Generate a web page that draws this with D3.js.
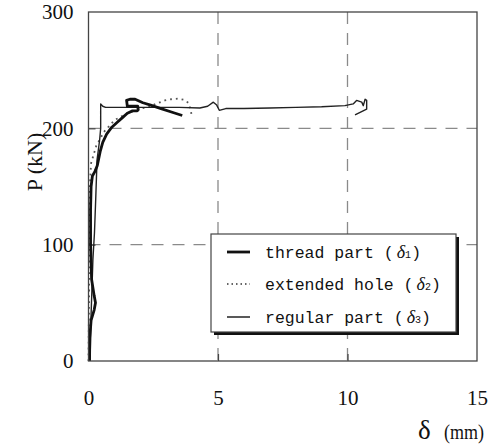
<!DOCTYPE html>
<html>
<head>
<meta charset="utf-8">
<script src="https://cdn.jsdelivr.net/npm/d3@7"></script>
<style>
  html, body { margin: 0; padding: 0; background: #fff; }
  svg { display: block; }
</style>
</head>
<body>
<svg id="chart" width="490" height="446"></svg>
<script>
// ---- data ----
const xTicks = [0, 5, 10, 15];
const yTicks = [0, 100, 200, 300];
const xGrid = [5, 10];
const yGrid = [100, 200];

const legendLabels = ["thread part", "extended hole", "regular part"];
const legendSubs = ["1", "2", "3"];

// thread part (δ1) — thick line
const threadDelta = [0.04, 0.05, 0.1, 0.22, 0.27, 0.22, 0.12, 0.08, 0.08, 0.1, 0.15, 0.25, 0.34, 0.45, 0.55, 0.7, 0.9, 1.1, 1.3, 1.5, 1.7, 1.88, 1.92, 1.9, 1.5, 1.47, 1.6, 1.8, 2.1, 2.4, 2.8, 3.2, 3.62];
const threadLoad  = [0, 20, 35, 44, 50, 56, 70, 100, 130, 150, 159, 163, 168, 180, 188, 195, 201, 205, 209, 213, 215, 215, 216, 219, 219, 224, 225, 225, 222, 220, 217, 214, 211];

// extended hole (δ2) — dotted line
const holeDelta = [0, 0.02, 0.04, 0.05, 0.1, 0.3, 0.6, 1.0, 1.5, 2.0, 2.3, 2.6, 2.95, 3.2, 3.47, 3.7, 3.85, 3.95, 3.98];
const holeLoad  = [0, 50, 100, 150, 170, 185, 197, 207, 213, 217, 218, 221, 224, 225, 225.5, 224.5, 222, 216, 211];

// regular part (δ3) — thin line
const regularDelta = [0.06, 0.1, 0.17, 0.23, 0.28, 0.33, 0.43, 0.47, 0.47, 0.55, 0.66, 1.5, 2.5, 3.5, 4.3, 4.6, 4.82, 4.95, 5.05, 5.3, 6, 7, 8, 9, 9.9, 10.22, 10.35, 10.55, 10.61, 10.68, 10.74, 10.74, 10.29];
const regularLoad  = [0, 40, 87, 110, 140, 173, 190, 200, 221, 219, 218, 218, 218, 218, 217.5, 219, 222.5, 220, 215.5, 217, 217, 217.5, 218, 218.5, 219.5, 221, 224, 222.5, 219.5, 225, 224, 216.5, 211.5];

// ---- drawing ----
const svg = d3.select("#chart");
const x = d3.scaleLinear().domain([0, 15]).range([88.5, 477]);
const y = d3.scaleLinear().domain([0, 300]).range([361, 12]);
const serif = "'Liberation Serif', 'Times New Roman', serif";

// grid lines
svg.append("g").selectAll("line").data(xGrid).join("line")
  .attr("x1", d => x(d)).attr("x2", d => x(d))
  .attr("y1", y(300)).attr("y2", y(0))
  .attr("stroke", "#8a8a8a").attr("stroke-width", 1.3).attr("stroke-dasharray", "12,9");
svg.append("g").selectAll("line").data(yGrid).join("line")
  .attr("y1", d => y(d)).attr("y2", d => y(d))
  .attr("x1", x(0)).attr("x2", x(15))
  .attr("stroke", "#8a8a8a").attr("stroke-width", 1.3).attr("stroke-dasharray", "12,9");

// inner ticks
const inLeft = svg.append("g").attr("transform", `translate(${x(0)},0)`)
  .call(d3.axisRight(y).tickValues(yGrid).tickSize(7).tickFormat(""));
const inBottom = svg.append("g").attr("transform", `translate(0,${y(0)})`)
  .call(d3.axisTop(x).tickValues(xGrid).tickSize(7).tickFormat(""));
[inLeft, inBottom].forEach(g => {
  g.select(".domain").remove();
  g.selectAll("line").attr("stroke", "#444").attr("stroke-width", 1.2);
});

// tick labels via axes
const yAxis = svg.append("g").attr("transform", `translate(${x(0)},0)`)
  .call(d3.axisLeft(y).tickValues(yTicks).tickSize(0).tickPadding(15).tickFormat(d3.format("d")));
const xAxis = svg.append("g").attr("transform", `translate(0,${y(0)})`)
  .call(d3.axisBottom(x).tickValues(xTicks).tickSize(0).tickPadding(29).tickFormat(d3.format("d")));
[yAxis, xAxis].forEach(g => {
  g.attr("font-family", null).attr("font-size", null);
  g.select(".domain").remove();
  g.selectAll("text").style("font-family", serif).style("font-size", "21px").attr("fill", "#111");
});

// series lines
const line = d3.line().x(d => x(d[0])).y(d => y(d[1]));
const zip = (a, b) => a.map((v, i) => [v, b[i]]);

svg.append("path").datum(zip(holeDelta, holeLoad))
  .attr("d", line).attr("fill", "none")
  .attr("stroke", "#555").attr("stroke-width", 1.8).attr("stroke-dasharray", "1.8,4");
svg.append("path").datum(zip(regularDelta, regularLoad))
  .attr("d", line).attr("fill", "none")
  .attr("stroke", "#222").attr("stroke-width", 1.4).attr("stroke-linejoin", "round");
svg.append("path").datum(zip(threadDelta, threadLoad))
  .attr("d", line).attr("fill", "none")
  .attr("stroke", "#111").attr("stroke-width", 2.8).attr("stroke-linejoin", "round");

// frame
svg.append("rect")
  .attr("x", x(0)).attr("y", y(300))
  .attr("width", x(15) - x(0)).attr("height", y(0) - y(300))
  .attr("fill", "none").attr("stroke", "#444").attr("stroke-width", 1.3);

// axis titles
svg.append("text")
  .attr("transform", `translate(42,162) rotate(-90)`)
  .attr("text-anchor", "middle")
  .style("font-family", serif).style("font-size", "22px").attr("fill", "#111")
  .text("P (kN)");
const xt = svg.append("text")
  .attr("x", 418).attr("y", 439)
  .style("font-family", serif).attr("fill", "#111");
xt.append("tspan").style("font-size", "27px").text("δ");
xt.append("tspan").attr("x", 444).style("font-size", "21px")
  .attr("textLength", 40).attr("lengthAdjust", "spacingAndGlyphs").text("(mm)");

// legend
const lg = svg.append("g");
const lx = 211, ly = 234, lw = 245, lh = 98;
lg.append("rect").attr("x", lx + 3).attr("y", ly + 3).attr("width", lw).attr("height", lh).attr("fill", "#111");
lg.append("rect").attr("x", lx).attr("y", ly).attr("width", lw).attr("height", lh)
  .attr("fill", "#fff").attr("stroke", "#444").attr("stroke-width", 1.2);
const rowY = [252, 284, 317];
const sampleStyles = [
  { w: 2.8, dash: null, c: "#111" },
  { w: 1.6, dash: "1.5,3", c: "#333" },
  { w: 1.5, dash: null, c: "#222" }
];
const mono = "'Liberation Mono', 'DejaVu Sans Mono', monospace";
legendLabels.forEach((lab, i) => {
  const s = sampleStyles[i];
  lg.append("line")
    .attr("x1", 227).attr("x2", 250).attr("y1", rowY[i]).attr("y2", rowY[i])
    .attr("stroke", s.c).attr("stroke-width", s.w)
    .attr("stroke-dasharray", s.dash);
  const t = lg.append("text")
    .attr("x", 265).attr("y", rowY[i] + 6)
    .style("font-family", mono).style("font-size", "16.5px").attr("fill", "#111");
  t.append("tspan").text(lab + " (");
  t.append("tspan").attr("dx", 3).style("font-family", serif).style("font-style", "italic").style("font-size", "18px").text("δ");
  t.append("tspan").style("font-size", "10px").text(legendSubs[i]);
  t.append("tspan").text(")");
});
</script>
</body>
</html>
